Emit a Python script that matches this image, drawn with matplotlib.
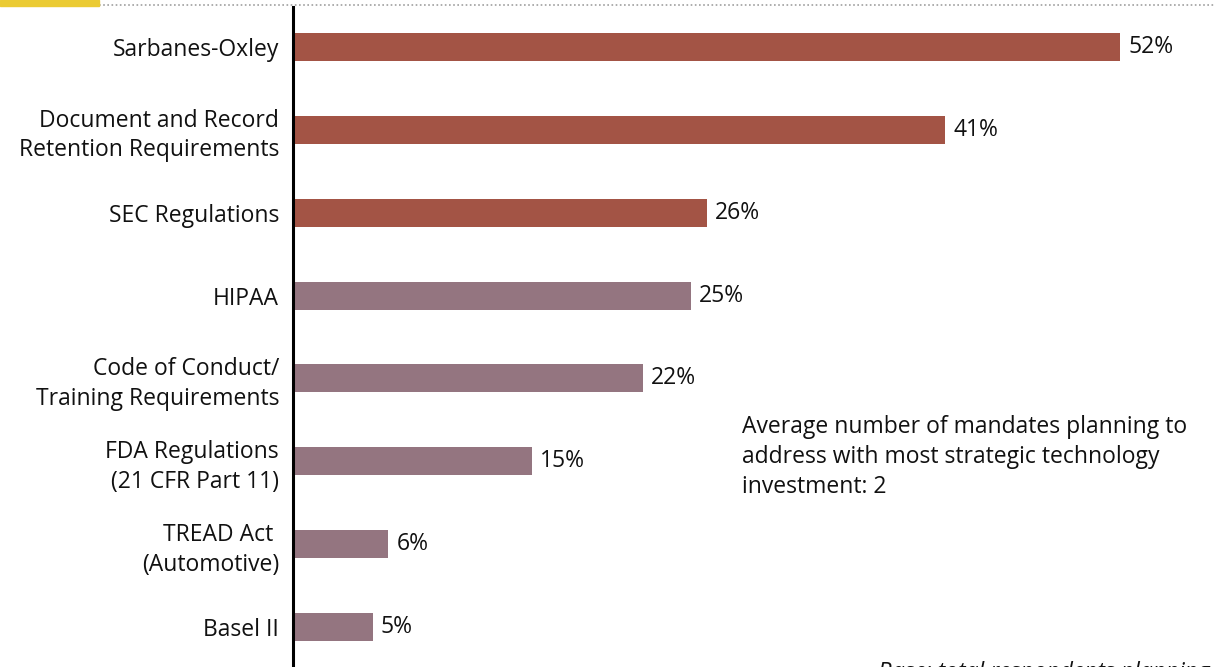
import matplotlib
matplotlib.use("Agg")
import matplotlib.pyplot as plt
from matplotlib.lines import Line2D
from matplotlib.patches import Rectangle

categories = [
    "Sarbanes-Oxley",
    "Document and Record\nRetention Requirements",
    "SEC Regulations",
    "HIPAA",
    "Code of Conduct/\nTraining Requirements",
    "FDA Regulations\n(21 CFR Part 11)",
    "TREAD Act \n(Automotive)",
    "Basel II",
]
values = [52, 41, 26, 25, 22, 15, 6, 5]
groups = ["fin", "fin", "fin", "other", "other", "other", "other", "other"]

group_colors = {"fin": "#A35445", "other": "#947580"}

plt.rcParams["font.family"] = ["Open Sans", "DejaVu Sans"]
FS = 16.5

W, H = 1214, 667
fig = plt.figure(figsize=(W / 100, H / 100), dpi=100)

# axes placement in pixels
ax_left, ax_top, ax_bottom = 293, 7, 667
px_per_pct = (1120 - 293) / 52.0
ax = fig.add_axes([ax_left / W, 0, (W - ax_left) / W, (H - ax_top) / H])
ax.set_xlim(0, (W - ax_left) / px_per_pct)
row_px = (627 - 47) / 7.0
top_idx = -(47 - ax_top) / row_px
bot_idx = 7 + (ax_bottom - 627) / row_px
ax.set_ylim(bot_idx, top_idx)

ypos = list(range(len(categories)))
bar_h = 28 / row_px
ax.barh(ypos, values, height=bar_h,
        color=[group_colors[g] for g in groups], zorder=2)

for y, v in zip(ypos, values):
    ax.annotate(f"{v}%", xy=(v, y), xytext=(8, 0), textcoords="offset pixels",
                ha="left", va="center", fontsize=FS, color="#111111")

ax.set_yticks(ypos)
ax.set_yticklabels(categories, fontsize=FS, color="#111111",
                   linespacing=1.3)
for lbl in ax.get_yticklabels():
    lbl.set_horizontalalignment("right")
ax.tick_params(axis="y", length=0, pad=10)
ax.set_xticks([])
for s in ["top", "right", "bottom"]:
    ax.spines[s].set_visible(False)
ax.spines["left"].set_linewidth(2.2)
ax.spines["left"].set_color("#000000")

fig.text(742 / W, 1 - 415 / H,
         "Average number of mandates planning to\n"
         "address with most strategic technology\n"
         "investment: 2",
         ha="left", va="top", fontsize=FS, color="#111111", linespacing=1.33)

# header strip: accent block and dotted rule
fig.patches.append(Rectangle((0, 1 - 6 / H), 99 / W, 6 / H,
                             transform=fig.transFigure, color="#EBCB33",
                             zorder=5))
fig.lines.append(Line2D([99 / W, 1], [1 - 5 / H, 1 - 5 / H],
                        transform=fig.transFigure, color="#A0A0A0",
                        linewidth=1.2, linestyle=(0, (1, 1.5))))

# base note running off the bottom edge
fig.text(878 / W, -18 / H, "Base: total respondents planning a strategic",
         ha="left", va="bottom", fontsize=FS, style="italic", color="#111111")

fig.savefig("out.png", dpi=100)
